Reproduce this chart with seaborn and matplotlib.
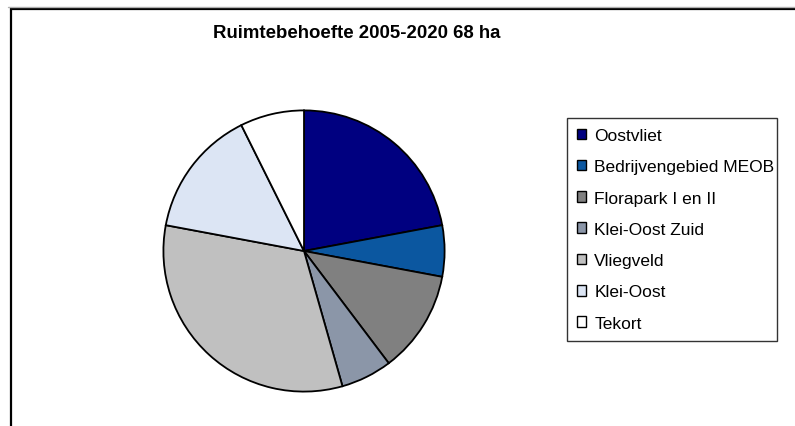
import matplotlib
matplotlib.use("Agg")
import matplotlib.pyplot as plt
import seaborn as sns
from matplotlib.patches import Patch, Rectangle
from matplotlib.lines import Line2D

### Data (ha)
labels = ["Oostvliet", "Bedrijvengebied MEOB", "Florapark I en II", "Klei-Oost Zuid",
          "Vliegveld", "Klei-Oost", "Tekort"]
hectares = [15, 4, 8, 4, 22, 10, 5]
colors = ["#000080", "#0b57a0", "#808080", "#8b96a8", "#c0c0c0", "#dce5f4", "#ffffff"]
title = "Ruimtebehoefte 2005-2020 68 ha"

sns.set_theme(style="white")
plt.rcParams["font.family"] = ["Liberation Sans", "DejaVu Sans"]
plt.rcParams["text.color"] = "black"

W, H = 795, 427
fig = plt.figure(figsize=(W / 100, H / 100), dpi=100)
fig.patch.set_facecolor("white")

# pie centre (304, 252), radius 142 px
cx, cy, r = 304, 252, 142
ax = fig.add_axes([(cx - r) / W, (H - cy - r) / H, 2 * r / W, 2 * r / H])
wedges, _ = ax.pie(hectares, colors=colors, startangle=90, counterclock=False,
                   wedgeprops=dict(edgecolor="black", linewidth=1.3), radius=1)
ax.set_xlim(-1.01, 1.01)
ax.set_ylim(-1.01, 1.01)
ax.set_aspect("equal")
ax.axis("off")

fig.text(357 / W, 1 - 34 / H, title, ha="center", va="center",
         fontsize=13.4, fontweight="bold", color="black")

# legend box 567..777 x 119..341
handles = [Patch(facecolor=c, edgecolor="black", linewidth=1.0) for c in colors]
leg = fig.legend(handles, labels, loc="upper left",
                 bbox_to_anchor=(567 / W, 1 - 341 / H, 210 / W, 222 / H),
                 mode="expand", borderaxespad=0, fontsize=12.5,
                 handlelength=0.55, handleheight=0.55, handletextpad=0.45,
                 labelspacing=0.94, borderpad=0.57, frameon=True, fancybox=False)
leg.get_frame().set_edgecolor("black")
leg.get_frame().set_linewidth(1.0)
for t in leg.get_texts():
    t.set_color("black")

# outer chart frame (extends past right/bottom edge)
fig.add_artist(Line2D([8 / W, 1], [1 - 8 / H, 1 - 8 / H], color="#b0b0b0", linewidth=1.0))
fig.add_artist(Rectangle((11 / W, -0.1), 1.2, 1 - 10 / H + 0.1, fill=False,
                         edgecolor="black", linewidth=1.6, transform=fig.transFigure))

fig.savefig("out.png", dpi=100)
